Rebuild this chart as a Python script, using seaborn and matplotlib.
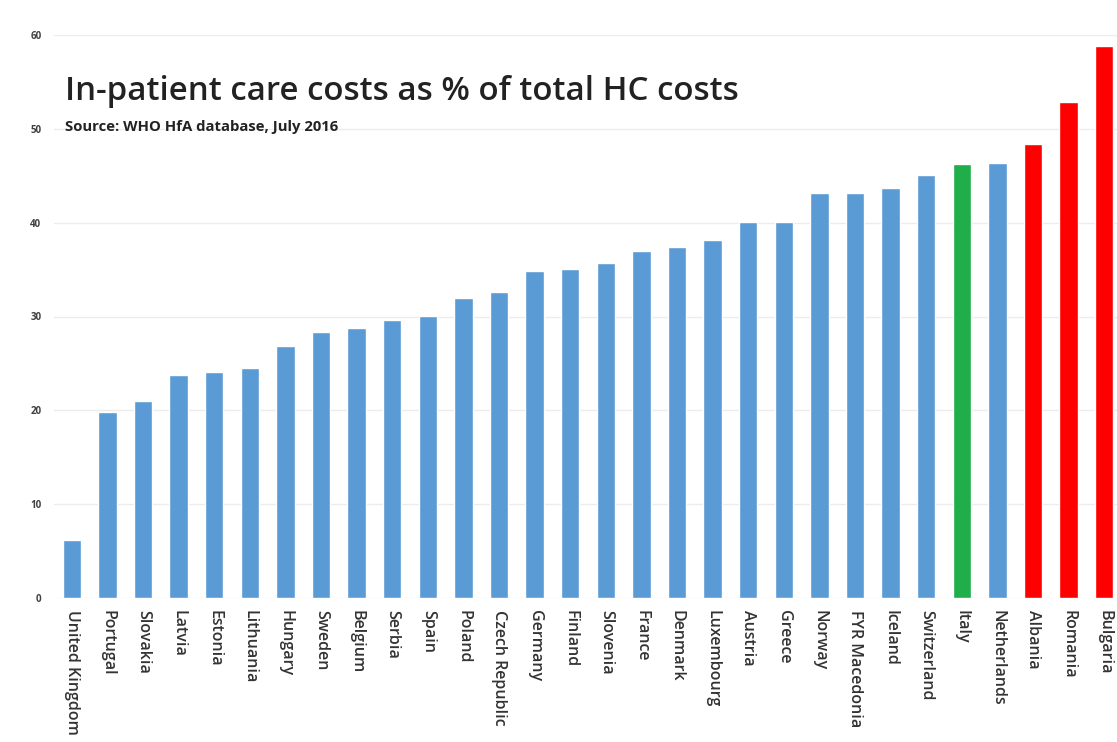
import matplotlib
matplotlib.use("Agg")
import matplotlib.pyplot as plt
import seaborn as sns
import pandas as pd

countries = [
    "United Kingdom", "Portugal", "Slovakia", "Latvia", "Estonia", "Lithuania",
    "Hungary", "Sweden", "Belgium", "Serbia", "Spain", "Poland",
    "Czech Republic", "Germany", "Finland", "Slovenia", "France", "Denmark",
    "Luxembourg", "Austria", "Greece", "Norway", "FYR Macedonia", "Iceland",
    "Switzerland", "Italy", "Netherlands", "Albania", "Romania", "Bulgaria",
]
values = [
    6.2, 19.8, 21.0, 23.8, 24.1, 24.5,
    26.9, 28.4, 28.8, 29.6, 30.1, 32.0,
    32.6, 34.8, 35.1, 35.7, 37.0, 37.4,
    38.1, 40.1, 40.1, 43.2, 43.2, 43.7,
    45.1, 46.3, 46.4, 48.4, 52.9, 58.8,
]
highlight_green = ["Italy"]
highlight_red = ["Albania", "Romania", "Bulgaria"]
y_ticks = [0, 10, 20, 30, 40, 50, 60]

BLUE = "#5b9bd5"
GREEN = "#1fae4a"
RED = "#ff0000"

palette = {}
for c in countries:
    if c in highlight_green:
        palette[c] = GREEN
    elif c in highlight_red:
        palette[c] = RED
    else:
        palette[c] = BLUE

df = pd.DataFrame({"country": countries, "value": values})

sns.set_theme(style="white")
plt.rcParams["font.family"] = ["Open Sans", "DejaVu Sans"]

W, H = 1117, 742
fig = plt.figure(figsize=(W / 100, H / 100), dpi=100)
ax = fig.add_axes([54 / W, 1 - 598 / H, (W - 54) / W, (598 - 35) / H])

sns.barplot(data=df, x="country", y="value", hue="country", palette=palette,
            width=0.52, legend=False, ax=ax, saturation=1)

ax.set_xlim(-0.5, 29.36)
ax.set_ylim(0, 60)
ax.set_yticks(y_ticks)
ax.yaxis.grid(True, color="#ececec", linewidth=1.0)
ax.set_axisbelow(True)
for s in ax.spines.values():
    s.set_visible(False)

ax.set_xlabel("")
ax.set_ylabel("")
ax.tick_params(axis="y", length=0, pad=9, labelsize=7, labelcolor="#404040")
for lbl in ax.get_yticklabels():
    lbl.set_fontweight("bold")
ax.tick_params(axis="x", length=0, pad=9, labelsize=11.5, labelcolor="#333333")
ax.set_xticks(range(len(countries)))
ax.set_xticklabels(countries, rotation=-90, va="top", ha="center",
                   fontweight="semibold")

fig.text(65 / W, 1 - 100 / H, "In-patient care costs as % of total HC costs",
         fontsize=23.8, fontweight="semibold", color="#222222",
         va="baseline", ha="left")
fig.text(65 / W, 1 - 131 / H, "Source: WHO HfA database, July 2016",
         fontsize=10.7, fontweight="bold", color="#222222",
         va="baseline", ha="left")

fig.savefig("out.png", dpi=100, facecolor="white")
